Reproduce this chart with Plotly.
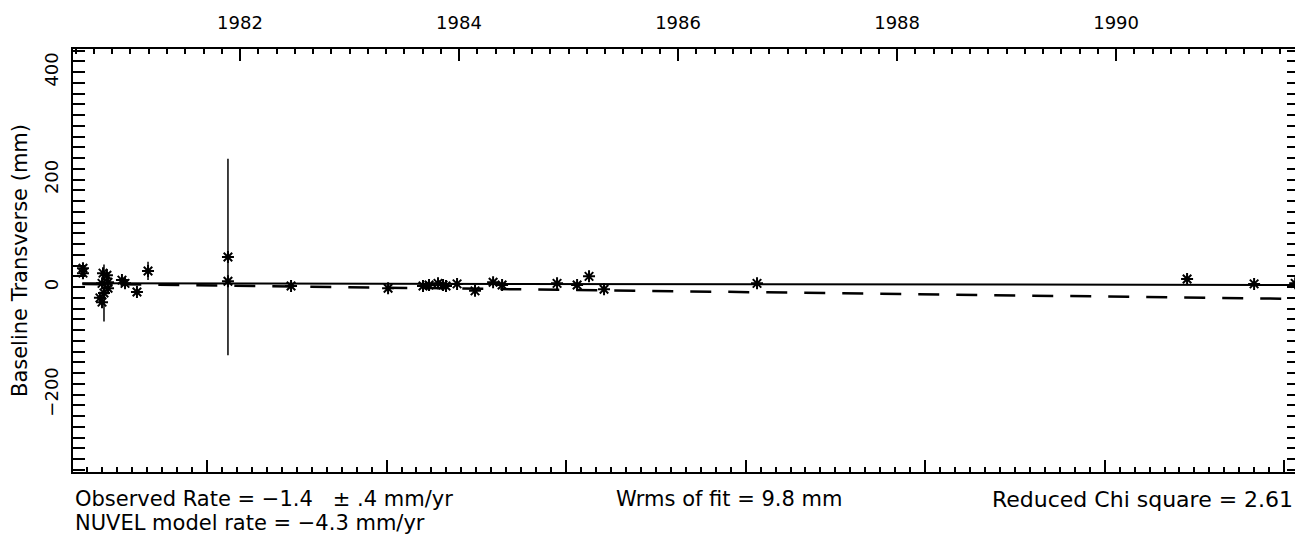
import plotly.graph_objects as go

# ---- data ----
obs_year = [1980.566, 1980.566, 1980.749, 1980.785, 1980.740, 1980.795, 1980.795,
            1980.721, 1980.740, 1980.758, 1980.922, 1980.950, 1981.059, 1981.160,
            1981.890, 1981.890, 1982.466, 1983.352, 1983.671, 1983.726, 1983.808,
            1983.854, 1983.881, 1983.982, 1984.146, 1984.311, 1984.393, 1984.895,
            1985.078, 1985.187, 1985.324, 1986.721, 1990.648, 1991.260, 1991.635]
obs_mm = [35, 26, 26, 22, 7, 9, -2, -20, -28, -11, 13, 7, -9, 30,
          56, 11, 2, -2, 2, 4, 7, 4, 2, 6, -7, 9, 4, 7, 4, 20, -4, 7, 15, 6, 7]
obs_err = [4, 4, 5, 5, 5, 5, 5, 5, 5, 53, 5, 5, 5, 17,
           183, 5, 4, 4, 4, 4, 4, 4, 4, 4, 4, 4, 4, 4, 4, 4, 4, 4, 4, 4, 4]

fit_year = [1980.56, 1991.67]
fit_mm = [7, 4]            # observed rate line (solid)
nuvel_year = [1980.56, 1991.67]
nuvel_mm = [6, -22]        # NUVEL model line (dashed)

x_range = [1980.475, 1991.67]
y_range = [-344, 443]
top_ticks = [1982, 1984, 1986, 1988, 1990]
y_ticks = [-200, 0, 200, 400]
bottom_tick0 = 1981.699
bottom_dtick = 1.6393

font = "DejaVu Sans"

fig = go.Figure()

fig.add_trace(go.Scatter(x=fit_year, y=fit_mm, mode="lines",
                         line=dict(color="black", width=2), showlegend=False))
fig.add_trace(go.Scatter(x=nuvel_year, y=nuvel_mm, mode="lines",
                         line=dict(color="black", width=2.5, dash="21px,17px"),
                         showlegend=False))
fig.add_trace(go.Scatter(
    x=obs_year, y=obs_mm, mode="markers",
    marker=dict(symbol="asterisk-open", size=10, color="black",
                line=dict(color="black", width=2)),
    error_y=dict(type="data", array=obs_err, visible=True, width=0,
                 thickness=1.5, color="black"),
    showlegend=False))
# invisible helper trace so the bottom (secondary) axis is drawn
fig.add_trace(go.Scatter(x=x_range, y=[0, 0], xaxis="x2", mode="lines",
                         line=dict(width=0), opacity=0, hoverinfo="skip",
                         showlegend=False))

fig.update_layout(
    width=1303, height=546,
    margin=dict(l=65, r=12, t=41, b=82, autoexpand=False),
    paper_bgcolor="white", plot_bgcolor="white",
    font=dict(family=font, size=18, color="black"),
    xaxis=dict(
        side="top", range=x_range, tickmode="array", tickvals=top_ticks,
        ticktext=[str(t) for t in top_ticks], automargin=False,
        ticks="inside", ticklen=12, tickwidth=1.5, tickcolor="black",
        showline=True, linecolor="black", linewidth=2, mirror=False,
        showgrid=False, zeroline=False, ticklabelstandoff=11,
        minor=dict(ticks="inside", ticklen=5, tickwidth=1.5, tickcolor="black",
                   tick0=1982, dtick=1/6, showgrid=False),
        tickfont=dict(family=font, size=18),
    ),
    xaxis2=dict(
        overlaying="x", side="bottom", anchor="y", range=x_range, automargin=False,
        tickmode="linear", tick0=bottom_tick0, dtick=bottom_dtick,
        ticks="inside", ticklen=12, tickwidth=1.5, tickcolor="black",
        showticklabels=False,
        showline=True, linecolor="black", linewidth=2,
        showgrid=False, zeroline=False,
        minor=dict(ticks="inside", ticklen=5, tickwidth=1.5, tickcolor="black",
                   tick0=bottom_tick0, dtick=bottom_dtick / 12, showgrid=False),
    ),
    yaxis=dict(
        range=y_range, tickmode="array", tickvals=y_ticks,
        ticktext=["\u2212200", "0", "200", "400"], automargin=False,
        tickangle=-90,
        ticks="inside", ticklen=12, tickwidth=1.5, tickcolor="black",
        showline=True, linecolor="black", linewidth=2, mirror="allticks",
        showgrid=False, zeroline=False, ticklabelstandoff=6,
        minor=dict(ticks="inside", ticklen=5, tickwidth=1.5, tickcolor="black",
                   tick0=0, dtick=20, showgrid=False),
        title=dict(text="Baseline Transverse (mm)", standoff=12,
                   font=dict(family=font, size=21)),
        tickfont=dict(family=font, size=18),
    ),
)

ann_font = dict(family=font, size=21, color="black")
fig.add_annotation(text="Observed Rate = \u22121.4   \u00b1 .4 mm/yr", xref="paper", yref="paper",
                   x=0, y=-0.03, xanchor="left", yanchor="top", showarrow=False, font=ann_font)
fig.add_annotation(text="NUVEL model rate = \u22124.3 mm/yr", xref="paper", yref="paper",
                   x=0, y=-0.088, xanchor="left", yanchor="top", showarrow=False, font=ann_font)
fig.add_annotation(text="Wrms of fit = 9.8 mm", xref="paper", yref="paper",
                   x=0.535, y=-0.03, xanchor="center", yanchor="top", showarrow=False, font=ann_font)
fig.add_annotation(text="Reduced Chi square = 2.61", xref="paper", yref="paper",
                   x=0.997, y=-0.03, xanchor="right", yanchor="top", showarrow=False,
                   font=dict(family=font, size=22, color="black"))

fig.write_html("out.html")
